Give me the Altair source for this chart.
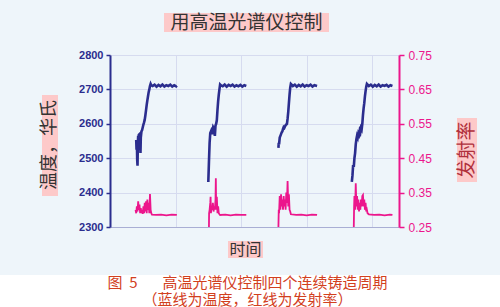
import altair as alt
import pandas as pd

# ---------------- data ----------------
# temperature (°F), four casting cycles; time in grid units
temp_t_c1 = [0.40, 0.405, 0.41, 0.415, 0.42, 0.425, 0.43, 0.435, 0.44, 0.45, 0.46, 0.465, 0.47, 0.48, 0.49,
             0.50, 0.51, 0.52, 0.53, 0.54, 0.55, 0.56, 0.57, 0.58, 0.59, 0.60, 0.61, 0.62, 0.63,
             0.65, 0.68, 0.71, 0.74, 0.77, 0.80, 0.83, 0.86, 0.89, 0.92, 0.95, 0.98, 1.01, 1.02]
temp_v_c1 = [2553, 2525, 2550, 2495, 2478, 2545, 2565, 2540, 2568, 2570, 2548, 2515, 2560, 2578, 2582,
             2590, 2598, 2604, 2612, 2625, 2640, 2655, 2668, 2680, 2692, 2700, 2710, 2716, 2712,
             2710, 2714, 2708, 2713, 2709, 2714, 2708, 2712, 2710, 2714, 2708, 2712, 2709, 2711]
temp_t_c2 = [1.50, 1.51, 1.52, 1.53, 1.545, 1.56, 1.575, 1.59, 1.60, 1.61, 1.62, 1.63, 1.64, 1.65, 1.66,
             1.67, 1.68, 1.69, 1.72, 1.75, 1.78, 1.81, 1.84, 1.87, 1.90, 1.93, 1.96, 1.99, 2.02, 2.05, 2.08]
temp_v_c2 = [2431, 2490, 2545, 2573, 2580, 2570, 2590, 2585, 2565, 2595, 2600, 2610, 2640, 2665, 2685,
             2700, 2714, 2712, 2709, 2714, 2708, 2713, 2710, 2714, 2708, 2712, 2709, 2713, 2708, 2712, 2710]
temp_t_c3 = [2.57, 2.575, 2.58, 2.59, 2.60, 2.61, 2.62, 2.63, 2.64, 2.65, 2.66, 2.67, 2.68, 2.69, 2.70,
             2.71, 2.72, 2.73, 2.74, 2.75, 2.76, 2.79, 2.82, 2.85, 2.88, 2.91, 2.94, 2.97, 3.00, 3.03,
             3.06, 3.09, 3.12, 3.16]
temp_v_c3 = [2530, 2545, 2540, 2560, 2565, 2570, 2575, 2578, 2585, 2590, 2588, 2592, 2596, 2598, 2600,
             2615, 2635, 2660, 2685, 2705, 2716, 2710, 2714, 2708, 2713, 2709, 2714, 2708, 2712, 2710,
             2714, 2708, 2712, 2710]
temp_t_c4 = [3.69, 3.70, 3.71, 3.72, 3.73, 3.74, 3.75, 3.76, 3.77, 3.78, 3.79, 3.80, 3.81, 3.82, 3.83,
             3.84, 3.85, 3.86, 3.87, 3.88, 3.89, 3.90, 3.91, 3.92, 3.95, 3.98, 4.01, 4.04, 4.07, 4.10,
             4.13, 4.16, 4.19, 4.22, 4.25, 4.28, 4.31]
temp_v_c4 = [2431, 2450, 2480, 2475, 2500, 2515, 2540, 2555, 2565, 2560, 2572, 2568, 2580, 2575, 2588,
             2584, 2600, 2625, 2645, 2660, 2680, 2695, 2708, 2716, 2710, 2714, 2708, 2713, 2709, 2714,
             2708, 2712, 2710, 2713, 2708, 2712, 2710]

# emissivity, four cycles
emis_t_c1 = [0.39, 0.40, 0.41, 0.42, 0.43, 0.44, 0.45, 0.46, 0.47, 0.48, 0.49, 0.50, 0.51, 0.52, 0.53,
             0.54, 0.55, 0.56, 0.57, 0.58, 0.59, 0.60, 0.61, 0.62, 0.63, 0.64, 0.70, 0.78, 0.86, 0.94, 1.02]
emis_v_c1 = [0.300, 0.290, 0.310, 0.295, 0.325, 0.300, 0.315, 0.290, 0.305, 0.290, 0.300, 0.288, 0.310,
             0.290, 0.320, 0.295, 0.325, 0.290, 0.330, 0.300, 0.320, 0.290, 0.346, 0.300, 0.290, 0.286,
             0.285, 0.286, 0.284, 0.286, 0.285]
emis_t_c2 = [1.51, 1.512, 1.52, 1.53, 1.535, 1.54, 1.55, 1.56, 1.57, 1.58, 1.59, 1.60, 1.61, 1.615, 1.62,
             1.63, 1.64, 1.65, 1.66, 1.67, 1.68, 1.76, 1.84, 1.92, 2.00, 2.08]
emis_v_c2 = [0.250, 0.290, 0.300, 0.320, 0.338, 0.290, 0.310, 0.300, 0.320, 0.295, 0.310, 0.300, 0.330,
             0.392, 0.300, 0.338, 0.290, 0.310, 0.290, 0.287, 0.285, 0.286, 0.284, 0.286, 0.285, 0.285]
emis_t_c3 = [2.57, 2.575, 2.58, 2.59, 2.60, 2.61, 2.62, 2.63, 2.64, 2.65, 2.66, 2.67, 2.68, 2.69, 2.70,
             2.71, 2.72, 2.73, 2.74, 2.75, 2.76, 2.84, 2.92, 3.00, 3.08, 3.16]
emis_v_c3 = [0.250, 0.300, 0.290, 0.340, 0.300, 0.345, 0.310, 0.330, 0.300, 0.340, 0.310, 0.330, 0.300,
             0.350, 0.320, 0.384, 0.310, 0.345, 0.300, 0.295, 0.287, 0.285, 0.286, 0.284, 0.286, 0.285]
emis_t_c4 = [3.72, 3.725, 3.73, 3.74, 3.75, 3.76, 3.77, 3.78, 3.79, 3.80, 3.81, 3.82, 3.83, 3.84, 3.85,
             3.86, 3.87, 3.88, 3.89, 3.90, 3.91, 3.92, 3.93, 3.95, 4.03, 4.11, 4.19, 4.27, 4.31]
emis_v_c4 = [0.250, 0.310, 0.340, 0.300, 0.377, 0.310, 0.340, 0.300, 0.330, 0.295, 0.320, 0.300, 0.330,
             0.310, 0.340, 0.343, 0.310, 0.330, 0.300, 0.320, 0.295, 0.300, 0.290, 0.287, 0.285, 0.286,
             0.284, 0.286, 0.285]

temp_ticks = [2300, 2400, 2500, 2600, 2700, 2800]
emis_ticks = [0.25, 0.35, 0.45, 0.55, 0.65, 0.75]
x_grid = [1, 2, 3, 4]

title_text = "用高温光谱仪控制"
left_title = "温度，华氏"
right_title = "发射率"
x_title = "时间"
caption_lines = ["图\u00a0\u00a05\u3000\u00a0\u00a0\u00a0高温光谱仪控制四个连续铸造周期",
                 "（蓝线为温度，红线为发射率）"]

# ---------------- build tables ----------------
def make(ts, vs, name):
    rows = []
    for i, (t, v) in enumerate(zip(ts, vs)):
        for a, b in zip(t, v):
            rows.append({"time": a, "value": b, "cycle": f"{name}{i+1}"})
    return pd.DataFrame(rows)

temp_df = make([temp_t_c1, temp_t_c2, temp_t_c3, temp_t_c4],
               [temp_v_c1, temp_v_c2, temp_v_c3, temp_v_c4], "T")
emis_df = make([emis_t_c1, emis_t_c2, emis_t_c3, emis_t_c4],
               [emis_v_c1, emis_v_c2, emis_v_c3, emis_v_c4], "E")

NAVY = "#2b2d8e"
PINK = "#ec168c"
GRID = "#d6dbef"
HL = "#fdc9c9"
CJK = "Noto Sans CJK SC"

one = pd.DataFrame({"k": [0]})

xscale = alt.Scale(domain=[0, 4.41], nice=False, zero=False)

temp_line = alt.Chart(temp_df).mark_line(color=NAVY, strokeWidth=2.6).encode(
    x=alt.X("time:Q", scale=xscale,
            axis=alt.Axis(values=x_grid, labels=False, ticks=False, title=None,
                          domainColor="#a9aed4", domainWidth=1.2, gridColor=GRID, grid=True)),
    y=alt.Y("value:Q", scale=alt.Scale(domain=[2300, 2800], nice=False, zero=False),
            axis=alt.Axis(orient="left", values=temp_ticks, title=None, format="d",
                          labelColor=NAVY, labelFont="Liberation Sans", labelFontWeight="bold",
                          labelFontSize=11, labelPadding=3, tickColor=NAVY, tickSize=4, tickWidth=1.5,
                          domainColor=NAVY, domainWidth=2, gridColor=GRID, grid=True)),
    detail="cycle:N",
)

emis_line = alt.Chart(emis_df).mark_line(color=PINK, strokeWidth=1.8).encode(
    x=alt.X("time:Q", scale=xscale),
    y=alt.Y("value:Q", scale=alt.Scale(domain=[0.25, 0.75], nice=False, zero=False),
            axis=alt.Axis(orient="right", values=emis_ticks, title=None, format=".2f", grid=False,
                          labelColor=PINK, labelFont="Liberation Sans", labelFontSize=12,
                          labelPadding=4, tickColor=PINK, tickSize=5, tickWidth=1.5,
                          domainColor=PINK, domainWidth=2)),
    detail="cycle:N",
)

def rect(x1, x2, y1, y2, color):
    return alt.Chart(one).mark_rect(color=color).encode(
        x=alt.value(x1), x2=alt.value(x2), y=alt.value(y1), y2=alt.value(y2))

def text(s, x, y, size, color, angle=0, line_height=None):
    kw = dict(text=s, fontSize=size, color=color, font=CJK, angle=angle,
              align="center", baseline="middle")
    if line_height is not None:
        kw["lineHeight"] = line_height
    return alt.Chart(one).mark_text(**kw).encode(x=alt.value(x), y=alt.value(y))

# plot origin is at (110, 55) on the page
bottom_white = rect(-110, 390, 220, 252, "white")
hl_title = rect(54, 219, -42, -23, HL)
hl_left = rect(-68, -52, 40, 141, HL)
hl_right = rect(347, 367, 63, 127, HL)
hl_x = rect(118, 153, 186, 203, HL)

t_title = text(title_text, 136.5, -32, 19, "#333333")
t_left = text(left_title, -60, 90, 18, "#333333", angle=270)
t_right = text(right_title, 357, 95, 19, "#b0303c", angle=270)
t_x = text(x_title, 135.5, 194.5, 16, "#333333")
t_cap = text(caption_lines, 137.5, 227.5, 15, "#d2401e", line_height=17)

chart = alt.layer(
    bottom_white, hl_title, hl_left, hl_right, hl_x,
    temp_line, emis_line,
    t_title, t_left, t_right, t_x, t_cap,
).resolve_scale(y="independent").properties(
    width=289, height=172,
    autosize=alt.AutoSizeParams(type="none"),
    padding={"left": 110, "top": 55, "right": 101, "bottom": 80},
    background="#eef5fa",
).configure_view(stroke="transparent")

chart.save("out.html", embed_options={"renderer": "svg", "actions": False})
